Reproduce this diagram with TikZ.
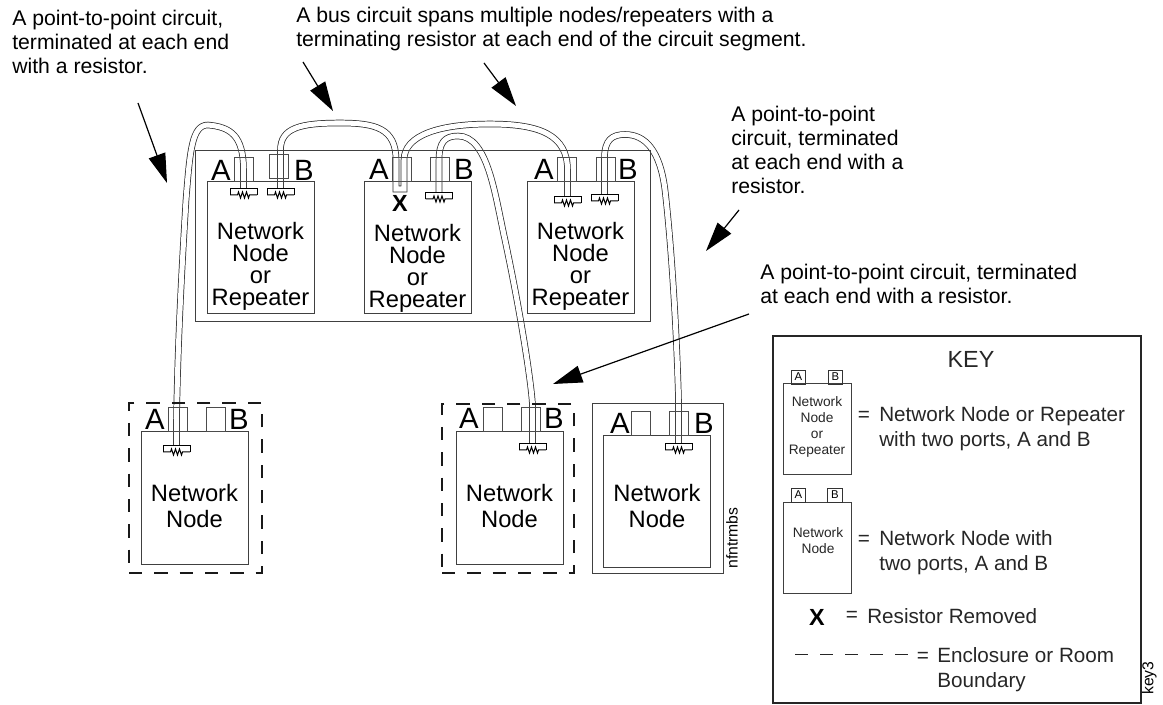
\documentclass[tikz,border=0pt]{standalone}
\usepackage{fontspec}
\setmainfont{Liberation Sans}
\usetikzlibrary{arrows.meta}
\tikzset{
  cable/.style = {draw=black!85, line width=0.55pt, double=white, double distance=3.8pt},
  callout/.style = {draw=black, line width=0.9pt, -{Triangle[length=22pt,width=13pt]}},
  nodebox/.style = {draw=black!75, line width=0.75pt, anchor=north west, minimum width=80.25pt, outer sep=0pt, inner sep=0pt},
  portbox/.style = {draw=black!70, line width=0.75pt, minimum width=14.25pt, minimum height=18pt, inner sep=0pt},
  keyport/.style = {draw=black!80, line width=0.6pt, minimum width=11pt, minimum height=10.5pt, inner sep=0pt, font=\fontsize{8.5}{10}\selectfont},
  boundary/.style = {draw=black!90, line width=1.5pt, dash pattern=on 10pt off 9pt},
  note/.style = {anchor=west, align=left, inner sep=0pt, font=\fontsize{15.9}{18}\selectfont},
  keynote/.style = {anchor=west, align=left, inner sep=0pt, text=black!85, font=\fontsize{15.5}{18.8}\selectfont},
  portname/.style = {inner sep=0pt, font=\fontsize{22}{24}\selectfont},
  nodename/.style = {align=center, inner sep=0pt, font=\fontsize{17.8}{16.5}\selectfont},
  smallname/.style = {align=center, inner sep=0pt, text=black!85, font=\fontsize{10.3}{12}\selectfont},
  termres/.pic = {
    \coordinate (-in) at (0,0);
    \draw[line width=0.65pt] (-13.5,7) -- (-13.5,0) -- (13.5,0) -- (13.5,7);
    \draw[line width=0.75pt] (-13.5,7) -- (-6,7) -- (-5,4) -- (-3,10) -- (-1,4) -- (1,10) -- (3,4) -- (5,10) -- (6,7) -- (13.5,7);
  }
}
\begin{document}
\begin{tikzpicture}[x=0.75pt, y=-0.75pt]
  \useasboundingbox (0,0) rectangle (1163,705);

  % terminating resistors
  \pic (t1a) at (243.5,188) {termres};
  \pic (t1b) at (280.5,188) {termres};
  \pic (t2b) at (439,192) {termres};
  \pic (t3a) at (567.5,196) {termres};
  \pic (t3b) at (604.5,194) {termres};
  \pic (t4a) at (176.5,445) {termres};
  \pic (t5b) at (532.5,443) {termres};
  \pic (t6b) at (678.5,443) {termres};

  % cables
  \draw[cable] (t4a-in) -- ++(0,-25) .. controls (178,330) and (183,250) .. (186,200)
    .. controls (190,150) and (192,125) .. (208,125)
    .. controls (230,127) and (243.5,135) .. (243.5,170) -- (t1a-in);
  \draw[cable] (t5b-in) -- ++(0,-38) .. controls (531,380) and (520,310) .. (505,240)
    .. controls (495,195) and (488,136) .. (458,136)
    .. controls (445,136) and (439,142) .. (439,160) -- (t2b-in);
  \draw[cable] (t1b-in) -- ++(0,-38) .. controls (280.5,128) and (300,123) .. (340,123)
    .. controls (375,123) and (396,128) .. (396,160) -- (396,189) -- (404,189) -- (404,160)
    .. controls (404,135) and (440,124) .. (490,124)
    .. controls (540,124) and (567.5,135) .. (567.5,170) -- (t3a-in);
  \draw[cable] (t6b-in) -- ++(0,-43) .. controls (677,340) and (672,250) .. (665,190)
    .. controls (660,150) and (645,134.5) .. (625,134.5)
    .. controls (612,134.5) and (604.5,140) .. (604.5,158) -- (t3b-in);

  % enclosure and nodes
  \node[draw=black!75, line width=0.75pt, anchor=north west, minimum width=341.25pt, minimum height=128.25pt, inner sep=0pt] (rack) at (195,150) {};
  \foreach \i/\x in {1/207,2/364,3/527}
    \node[nodebox, minimum height=99pt] (rep\i) at (\x,182) {};
  \foreach \i/\x/\y in {1/260.5/266,2/417.5/268,3/580.5/266}
    \node[nodename] (rep\i text) at (\x,\y) {Network\\Node\\or\\Repeater};
  \node[boundary, anchor=north west, minimum width=99.75pt, minimum height=127.5pt, inner sep=0pt] (roomone) at (128,402) {};
  \node[boundary, anchor=north west, minimum width=99pt, minimum height=126.75pt, inner sep=0pt] (roomtwo) at (441,403) {};
  \node[draw=black!75, line width=0.75pt, anchor=north west, minimum width=98.25pt, minimum height=127.5pt, inner sep=0pt] (roomthree) at (592,403) {};
  \foreach \i/\x/\y/\h in {4/141/432/132,5/456/432/132,6/603/436/131}
    \node[nodebox, minimum width=80.25pt, minimum height=0.75pt*\h] (end\i) at (\x,\y) {};
  \foreach \i/\x/\y in {4/194.5/506,5/509.5/506,6/657/506}
    \node[nodename, font=\fontsize{17.8}{19.5}\selectfont] (end\i text) at (\x,\y) {Network\\Node};

  % ports
  \foreach \n/\x/\y in {p1a/243.5/170,p1b/278.5/167,p2a/401.5/170,p2b/439.5/170,p3a/566.5/170,p3b/605.5/170,
    p4a/177.5/420,p4b/215.5/420,p5a/492.5/420,p5b/530.5/420,p6a/640.5/424,p6b/678.5/424}
    \node[portbox] (\n) at (\x,\y) {};
  \foreach \n/\t/\x/\y in {a1/A/221/170,b1/B/304/170,a2/A/379/169,b2/B/464/169,a3/A/544/169,b3/B/628/169,
    a4/A/155/419,b4/B/239/419,a5/A/469/418,b5/B/554/418,a6/A/620/423,b6/B/704/423}
    \node[portname] (\n) at (\x,\y) {\t};
  \node[inner sep=0pt, font=\fontsize{17.5}{18}\selectfont\bfseries] (cut) at (400,203) {X};

  % notes
  \node[note] (noteone) at (12,42) {A point-to-point circuit,\\terminated at each end\\with a resistor.};
  \node[note] (notetwo) at (296,29) {A bus circuit spans multiple nodes/repeaters with a\\terminating resistor at each end of the circuit segment.};
  \node[note] (notethree) at (731,150) {A point-to-point\\circuit, terminated\\at each end with a\\resistor.};
  \node[note] (notefour) at (760,284) {A point-to-point circuit, terminated\\at each end with a resistor.};
  \node[rotate=90, anchor=south west, inner sep=0pt, font=\fontsize{11.8}{13}\selectfont] (tagone) at (738,569) {nfntrmbs};

  \coordinate (arrowonea) at (138,103);   \coordinate (arrowoneb) at (167,183);
  \coordinate (arrowtwoa) at (303,62);    \coordinate (arrowtwob) at (333,111);
  \coordinate (arrowthreea) at (484,63);  \coordinate (arrowthreeb) at (516,106);
  \coordinate (arrowfoura) at (739,210);  \coordinate (arrowfourb) at (706,251);
  \coordinate (arrowfivea) at (749,314);  \coordinate (arrowfiveb) at (553,384);
  \foreach \a in {one,two,three,four,five}
    \draw[callout] (arrow\a a) -- (arrow\a b);

  % key
  \node[draw=black!85, line width=1.7pt, anchor=north west, minimum width=276pt, minimum height=275pt, inner sep=0pt] (keybox) at (772,335) {};
  \node[inner sep=0pt, text=black!85, font=\fontsize{17.5}{20}\selectfont] (keytitle) at (971,359) {KEY};
  \node[nodebox, minimum width=51pt, minimum height=67.5pt] (keyrep) at (783,384) {};
  \node[smallname] (keyreptext) at (817,426.5) {Network\\Node\\or\\Repeater};
  \node[nodebox, minimum width=51pt, minimum height=68.25pt] (keyend) at (783,502) {};
  \node[smallname] (keyendtext) at (818,541) {Network\\Node};
  \foreach \n/\t/\x/\y in {ka/A/798.5/377,kb/B/835.5/377,kc/A/798.5/495,kd/B/835/495}
    \node[keyport] (\n) at (\x,\y) {\t};
  \node[keynote, anchor=center] (eqone) at (864,416) {=};
  \node[keynote] (keynoteone) at (879,428.5) {Network Node or Repeater\\with two ports, A and B};
  \node[keynote, anchor=center] (eqtwo) at (864,540) {=};
  \node[keynote] (keynotetwo) at (879,553) {Network Node with\\two ports, A and B};
  \node[inner sep=0pt, font=\fontsize{17.5}{18}\selectfont\bfseries] (keycut) at (817,617) {X};
  \node[keynote, anchor=center] (eqthree) at (852,616) {=};
  \node[keynote] (keynotethree) at (867,616) {Resistor Removed};
  \coordinate (dasha) at (795,654);
  \coordinate (dashb) at (908,654);
  \draw[black!85, line width=0.75pt, dash pattern=on 10.1pt off 8.65pt] (dasha) -- (dashb);
  \node[keynote, anchor=center] (eqfour) at (923,657) {=};
  \node[keynote] (keynotefour) at (937,669.5) {Enclosure or Room\\Boundary};
  \node[rotate=90, anchor=south west, inner sep=0pt, font=\fontsize{11.8}{13}\selectfont] (tagtwo) at (1157,695) {key3};
\end{tikzpicture}
\end{document}
